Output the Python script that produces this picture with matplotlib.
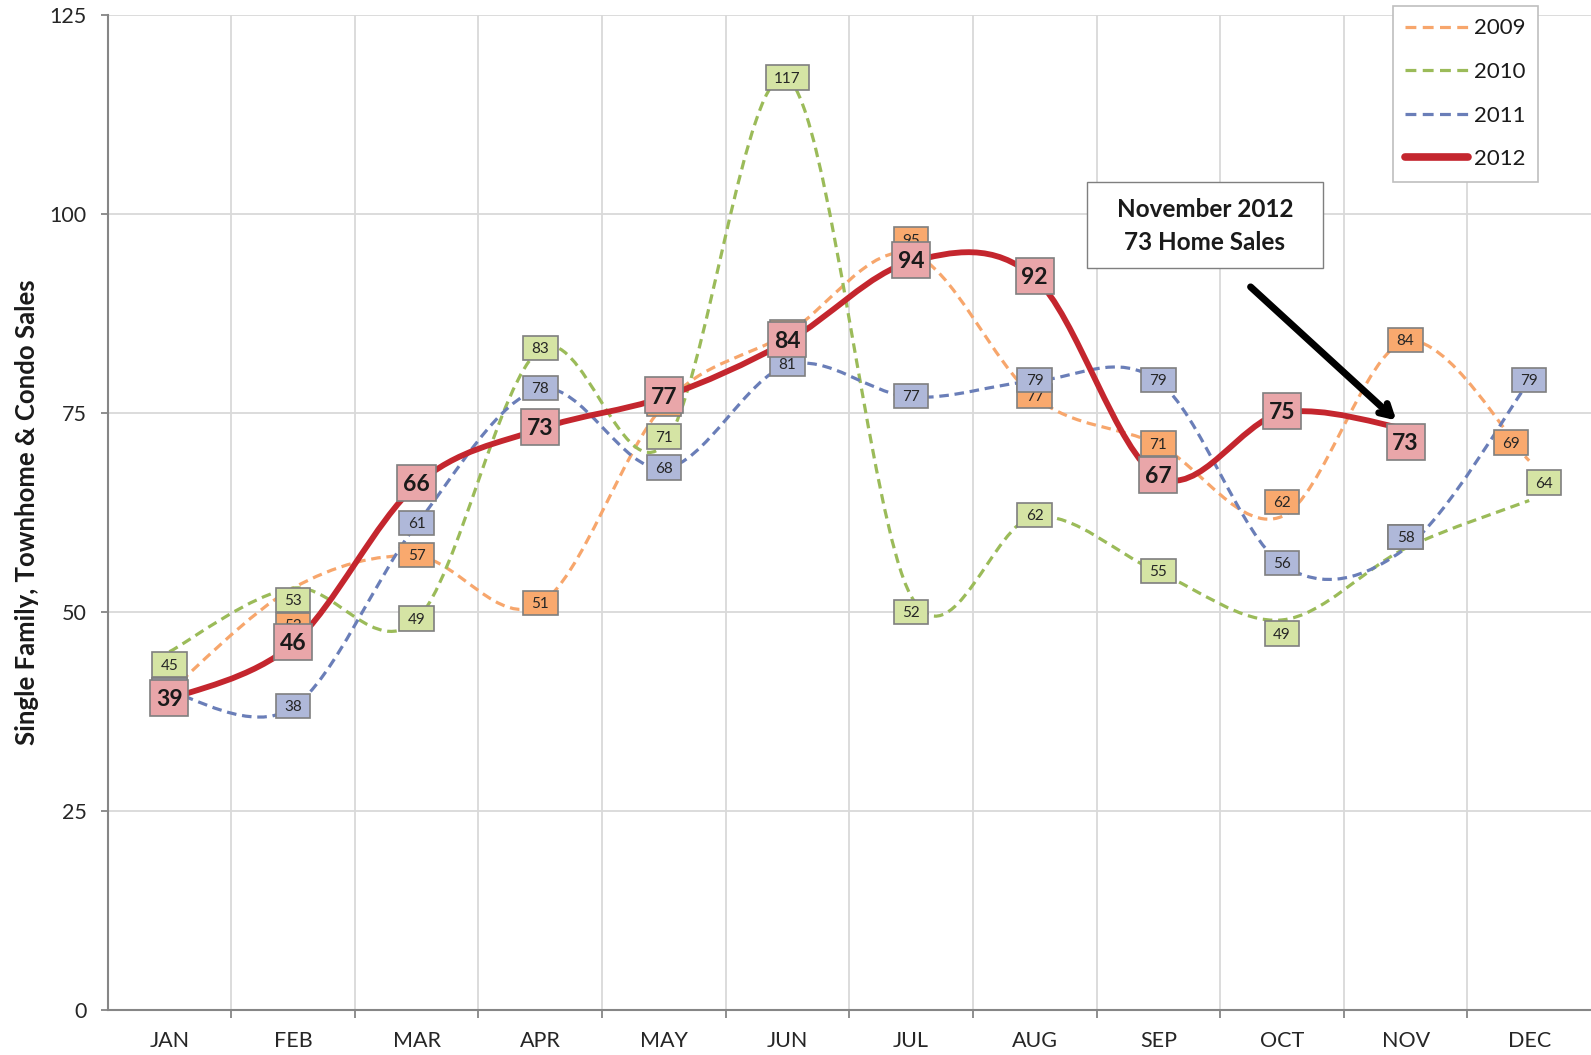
import matplotlib
matplotlib.use('Agg')
import matplotlib.pyplot as plt
from matplotlib.path import Path
from matplotlib.patches import PathPatch, Rectangle
from matplotlib.lines import Line2D

plt.rcParams['font.family'] = ['Lato', 'DejaVu Sans']

months = ['JAN', 'FEB', 'MAR', 'APR', 'MAY', 'JUN', 'JUL', 'AUG', 'SEP', 'OCT', 'NOV', 'DEC']
s2009 = [40, 53, 57, 51, 76, 85, 95, 77, 71, 62, 84, 69]
s2010 = [45, 53, 49, 83, 71, 117, 52, 62, 55, 49, 58, 64]
s2011 = [40, 38, 61, 78, 68, 81, 77, 79, 79, 56, 58, 79]
s2012 = [39, 46, 66, 73, 77, 84, 94, 92, 67, 75, 73]

# label nudges in pixels (dx right, dy down), as placed in the original chart
nudge = {
    '2009': {1: (0, 38), 6: (0, -13), 9: (0, -13), 11: (-18, -17)},
    '2010': {0: (0, 14), 1: (0, 13), 4: (0, -7), 6: (0, 17), 9: (0, 15), 10: (0, -10),
             11: (15, -17)},
    '2011': {10: (0, -10)},
    '2012': {10: (0, 15)},
}

series = [
    ('2009', s2009, '#F7A66C', '#F9A96E', 'dash'),
    ('2010', s2010, '#9BBB59', '#D5E4A4', 'dash'),
    ('2011', s2011, '#6A7EB8', '#AFB8D9', 'dash'),
    ('2012', s2012, '#C4262E', '#E9A6A9', 'solid'),
]


def smooth_path(vals):
    # excel style smoothed line: bezier segments, control points at 1/6 of neighbour span
    pts = [(float(i), float(v)) for i, v in enumerate(vals)]
    n = len(pts)
    verts = [pts[0]]
    codes = [Path.MOVETO]
    for i in range(n - 1):
        p0 = pts[max(i - 1, 0)]
        p1 = pts[i]
        p2 = pts[i + 1]
        p3 = pts[min(i + 2, n - 1)]
        c1 = (p1[0] + (p2[0] - p0[0]) / 6, p1[1] + (p2[1] - p0[1]) / 6)
        c2 = (p2[0] - (p3[0] - p1[0]) / 6, p2[1] - (p3[1] - p1[1]) / 6)
        verts += [c1, c2, p2]
        codes += [Path.CURVE4] * 3
    return Path(verts, codes)


def label_box(padx, boxh):
    def box(x0, y0, width, height, mutation_size):
        cx = x0 + width / 2
        cy = y0 + height / 2 + 0.08 * mutation_size
        w = width + 2 * padx * mutation_size
        h = boxh * mutation_size
        return Path([(cx - w / 2, cy - h / 2), (cx + w / 2, cy - h / 2),
                     (cx + w / 2, cy + h / 2), (cx - w / 2, cy + h / 2),
                     (cx - w / 2, cy - h / 2)], closed=True)
    return box


fig = plt.figure(figsize=(15.91, 10.55), dpi=100)
ax = fig.add_axes([0.0676, 0.0427, 0.9324, 0.9431])

dash = (0, (3.0, 1.8))
for z, (name, vals, lc, fc, style) in enumerate(series):
    if style == 'solid':
        patch = PathPatch(smooth_path(vals), fill=False, edgecolor=lc, lw=4.2,
                          capstyle='round', joinstyle='round', zorder=4)
    else:
        patch = PathPatch(smooth_path(vals), fill=False, edgecolor=lc, lw=2.3,
                          linestyle=dash, zorder=2 + z * 0.1)
    ax.add_patch(patch)

for z, (name, vals, lc, fc, style) in enumerate(series):
    big = style == 'solid'
    for i, v in enumerate(vals):
        dx, dy = nudge[name].get(i, (0, 0))
        if big:
            bb = dict(boxstyle=label_box(0.25, 1.57), fc=fc, ec='#7F7F7F', lw=1.2)
            ax.annotate(str(v), (i, v), xytext=(dx, -dy), textcoords='offset pixels',
                        ha='center', va='center', fontsize=16.5, fontweight='bold',
                        color='#1A1A1A', bbox=bb, zorder=10 + z)
        else:
            bb = dict(boxstyle=label_box(0.55, 1.6), fc=fc, ec='#7F7F7F', lw=1.2)
            ax.annotate(str(v), (i, v), xytext=(dx, -dy), textcoords='offset pixels',
                        ha='center', va='center', fontsize=11,
                        color='#262626', bbox=bb, zorder=10 + z)

ax.set_xlim(-0.5, 11.5)
ax.set_ylim(0, 125)
ax.set_yticks(range(0, 126, 25))
ax.set_xticks(range(12))
ax.set_xticklabels(months)
ax.set_xticks([i + 0.5 for i in range(11)], minor=True)

ax.grid(True, which='major', axis='y', color='#D9D9D9', lw=1.3)
ax.grid(True, which='minor', axis='x', color='#D9D9D9', lw=1.3)
ax.set_axisbelow(True)

for s in ['top', 'right']:
    ax.spines[s].set_visible(False)
for s in ['left', 'bottom']:
    ax.spines[s].set_color('#868686')
    ax.spines[s].set_linewidth(1.5)

ax.tick_params(axis='x', which='major', length=0, pad=15, labelsize=15.5, labelcolor='#262626')
ax.tick_params(axis='x', which='minor', length=6, width=1.3, color='#868686', direction='out')
ax.tick_params(axis='y', length=5, width=1.3, color='#868686', pad=10, labelsize=15.5,
               labelcolor='#262626')

ax.set_ylabel('Single Family, Townhome & Condo Sales', fontsize=18.5, fontweight='bold',
              color='#1A1A1A')
ax.yaxis.set_label_coords(-0.046, 0.5)

handles = []
for name, vals, lc, fc, style in series:
    if style == 'solid':
        handles.append(Line2D([], [], color=lc, lw=5.5, solid_capstyle='round'))
    else:
        handles.append(Line2D([], [], color=lc, lw=2.3, linestyle=(0, (3.4, 2.0))))
leg = ax.legend(handles, [s[0] for s in series], loc='upper right',
                bbox_to_anchor=(1538 / 1591, 1 - 6 / 1055), bbox_transform=fig.transFigure,
                fontsize=16, handlelength=2.85, handletextpad=0.25, labelspacing=1.06,
                borderpad=0.56, borderaxespad=0, fancybox=False, framealpha=1,
                edgecolor='#BFBFBF')
leg.get_frame().set_linewidth(1.2)
for t in leg.get_texts():
    t.set_color('#1A1A1A')

# callout box
fig.patches.append(Rectangle((1087 / 1591, 1 - 268 / 1055), 236 / 1591, 86 / 1055,
                             transform=fig.transFigure, fc='white', ec='#7F7F7F', lw=1.0,
                             zorder=20))
fig.text(1205 / 1591, 1 - 226 / 1055, 'November 2012\n73 Home Sales', ha='center',
         va='center', fontsize=17.5, fontweight='bold', color='#1A1A1A', linespacing=1.5,
         zorder=21)

ax.annotate('', xy=(10, s2012[10]), xytext=(-155, 142), textcoords='offset pixels',
            arrowprops=dict(arrowstyle='->,head_length=0.8,head_width=0.45', color='black',
                            lw=5, shrinkA=0, shrinkB=9), zorder=15)

fig.savefig('out.png', dpi=100)
